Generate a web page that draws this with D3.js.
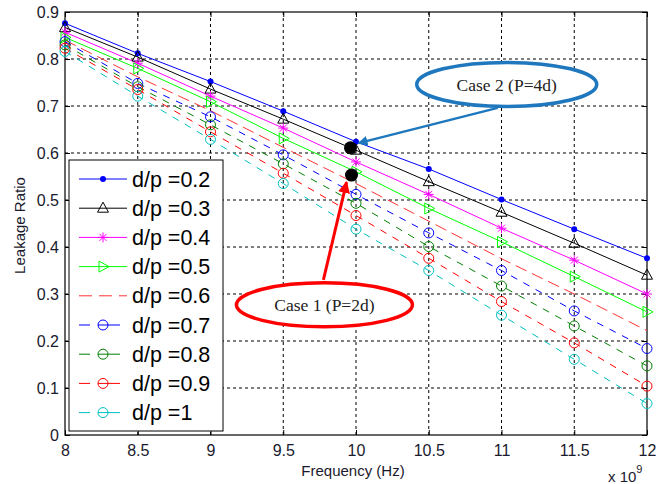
<!DOCTYPE html>
<html>
<head>
<meta charset="utf-8">
<script src="https://cdn.jsdelivr.net/npm/d3@7"></script>
<style>
  body { margin: 0; background: #fff; }
  svg { display: block; font-family: Arial, "Liberation Sans", sans-serif; }
  .tick text { fill: #1a1a2e; }
</style>
</head>
<body>
<div class="chart"></div>
<script>
// frequencies in GHz (axis shows x 10^9)
var freqs = [8, 8.5, 9, 9.5, 10, 10.5, 11, 11.5, 12];
var ratios = ['0.2', '0.3', '0.4', '0.5', '0.6', '0.7', '0.8', '0.9', '1'];
var s02 = [0.876, 0.812, 0.752, 0.689, 0.624, 0.566, 0.501, 0.438, 0.376];
var s03 = [0.867, 0.804, 0.736, 0.672, 0.606, 0.539, 0.474, 0.408, 0.340];
var s04 = [0.857, 0.791, 0.721, 0.653, 0.581, 0.512, 0.440, 0.372, 0.300];
var s05 = [0.846, 0.780, 0.709, 0.631, 0.560, 0.482, 0.411, 0.337, 0.262];
var s06 = [0.840, 0.762, 0.690, 0.612, 0.535, 0.455, 0.375, 0.300, 0.222];
var s07 = [0.837, 0.748, 0.677, 0.596, 0.512, 0.430, 0.350, 0.264, 0.184];
var s08 = [0.830, 0.741, 0.660, 0.577, 0.493, 0.401, 0.317, 0.232, 0.147];
var s09 = [0.823, 0.735, 0.645, 0.557, 0.467, 0.376, 0.284, 0.196, 0.104];
var s10 = [0.816, 0.721, 0.629, 0.535, 0.438, 0.350, 0.255, 0.161, 0.067];
var xTicks = [8, 8.5, 9, 9.5, 10, 10.5, 11, 11.5, 12];
var yTicks = [0, 0.1, 0.2, 0.3, 0.4, 0.5, 0.6, 0.7, 0.8, 0.9];

// the two highlighted cases (black dots) and their callouts, in data units
var caseLabels = ['Case 2 (P=4d)', 'Case 1 (P=2d)'];
var caseDots = [[9.962, 0.611], [9.969, 0.553]];
var caseBubbles = [[11.036, 0.746], [9.783, 0.277]];
var caseArrowFrom = [[10.974, 0.696], [9.776, 0.330]];
var caseArrowTo = [[10.017, 0.621], [9.935, 0.538]];

var series = [s02, s03, s04, s05, s06, s07, s08, s09, s10];
var colors = ['#0000ff', '#000000', '#ff00ff', '#00ff00', '#ff3333', '#0000ff', '#008000', '#ff0000', '#00bfbf'];
var markers = ['dot', 'triangle', 'star', 'right', 'none', 'circle', 'circle', 'circle', 'circle'];
var dashes = [null, null, null, null, '12,6', '7,7', '7,7', '7,7', '7,7'];

var margin = { top: 12, right: 19, bottom: 49, left: 65 },
  width = 666 - margin.left - margin.right,
  height = 484 - margin.top - margin.bottom;

var svg = d3.select('.chart')
  .append('svg')
    .attr('width', 666)
    .attr('height', 484);

var g = svg.append('g')
  .attr('transform', `translate(${margin.left}, ${margin.top})`);

var x = d3.scaleLinear().domain([8, 12]).range([0, width]);
var y = d3.scaleLinear().domain([0, 0.9]).range([height, 0]);

// dotted grid
g.append('g')
  .selectAll('line')
  .data(xTicks.slice(1, -1))
  .enter().append('line')
    .attr('x1', d => x(d)).attr('x2', d => x(d))
    .attr('y1', 0).attr('y2', height)
    .attr('stroke', '#000').attr('stroke-width', 1)
    .attr('stroke-dasharray', '3,3');
g.append('g')
  .selectAll('line')
  .data(yTicks.slice(1, -1))
  .enter().append('line')
    .attr('y1', d => y(d)).attr('y2', d => y(d))
    .attr('x1', 0).attr('x2', width)
    .attr('stroke', '#000').attr('stroke-width', 1)
    .attr('stroke-dasharray', '3,3');

// axes (ticks point inward, MATLAB style)
var fmt = d => d3.format('~g')(d);
g.append('g')
  .attr('transform', `translate(0, ${height})`)
  .call(d3.axisBottom(x).tickValues(xTicks).tickFormat(fmt).tickSize(-5).tickPadding(10))
  .call(a => a.select('.domain').remove())
  .selectAll('text').style('font-size', '16px');
g.append('g')
  .call(d3.axisLeft(y).tickValues(yTicks).tickFormat(fmt).tickSize(-5).tickPadding(6))
  .call(a => a.select('.domain').remove())
  .selectAll('text').style('font-size', '16px');
g.append('g')
  .call(d3.axisTop(x).tickValues(xTicks).tickFormat('').tickSize(-5))
  .call(a => a.select('.domain').remove());
g.append('g')
  .attr('transform', `translate(${width}, 0)`)
  .call(d3.axisRight(y).tickValues(yTicks).tickFormat('').tickSize(-5))
  .call(a => a.select('.domain').remove());

g.append('rect')
  .attr('width', width).attr('height', height)
  .attr('fill', 'none').attr('stroke', '#000').attr('stroke-width', 1.2);

// lines
var line = d3.line().x((d, i) => x(freqs[i])).y(d => y(d));
series.forEach(function(s, k) {
  g.append('path')
    .datum(s)
    .attr('d', line)
    .attr('fill', 'none')
    .attr('stroke', colors[k])
    .attr('stroke-width', 1)
    .attr('stroke-dasharray', dashes[k]);
});

function drawMarker(sel, type, color) {
  if (type === 'dot') {
    sel.append('circle').attr('r', 3).attr('fill', color);
  } else if (type === 'circle') {
    sel.append('circle').attr('r', 5).attr('fill', 'none').attr('stroke', color);
  } else if (type === 'triangle') {
    sel.append('path').attr('d', 'M0,-6L5.5,4L-5.5,4Z').attr('fill', 'none').attr('stroke', color);
  } else if (type === 'right') {
    sel.append('path').attr('d', 'M6,0L-4,-5.5L-4,5.5Z').attr('fill', 'none').attr('stroke', color);
  } else if (type === 'star') {
    sel.append('path').attr('d', 'M-5,0H5M0,-5V5M-3.5,-3.5L3.5,3.5M-3.5,3.5L3.5,-3.5')
      .attr('stroke', color);
  }
}

series.forEach(function(s, k) {
  if (markers[k] === 'none') return;
  g.append('g')
    .selectAll('g')
    .data(s)
    .enter().append('g')
      .attr('transform', (d, i) => `translate(${x(freqs[i])}, ${y(d)})`)
      .each(function() { drawMarker(d3.select(this), markers[k], colors[k]); });
});

// legend
var legend = g.append('g').attr('transform', 'translate(4, 148)');
legend.append('rect')
  .attr('width', 154).attr('height', 271)
  .attr('fill', '#fff').attr('stroke', '#000');
var item = legend.selectAll('.legend')
  .data(ratios)
  .enter().append('g')
    .attr('class', 'legend')
    .attr('transform', (d, i) => `translate(0, ${19 + i * 29.2})`);
item.append('line')
  .attr('x1', 10).attr('x2', (d, i) => i > 4 ? 51 : 58)
  .attr('stroke', (d, i) => colors[i])
  .attr('stroke-dasharray', (d, i) => i === 4 ? '13,7' : (dashes[i] ? '11,8,100' : null));
item.append('g')
  .attr('transform', 'translate(34, 0)')
  .each(function(d, i) { drawMarker(d3.select(this), markers[i], colors[i]); });
item.append('text')
  .attr('x', 63).attr('dy', '.35em')
  .style('font-size', '21.5px')
  .text(d => 'd/p =' + d);

// callouts
var callColors = ['#1f78be', '#ff0000'];
var defs = svg.append('defs');
callColors.forEach(function(c, k) {
  defs.append('marker')
    .attr('id', 'arrow' + k)
    .attr('viewBox', '0 -5 10 10')
    .attr('refX', 9).attr('refY', 0)
    .attr('markerWidth', 4).attr('markerHeight', 4)
    .attr('orient', 'auto')
    .append('path').attr('d', 'M0,-5L10,0L0,5Z').attr('fill', c);
});

caseLabels.forEach(function(label, k) {
  var b = caseBubbles[k];
  g.append('line')
    .attr('x1', x(caseArrowFrom[k][0])).attr('y1', y(caseArrowFrom[k][1]))
    .attr('x2', x(caseArrowTo[k][0])).attr('y2', y(caseArrowTo[k][1]))
    .attr('stroke', callColors[k]).attr('stroke-width', k ? 3 : 2.5)
    .attr('marker-end', `url(#arrow${k})`);
  g.append('ellipse')
    .attr('cx', x(b[0])).attr('cy', y(b[1]))
    .attr('rx', k ? 88 : 90).attr('ry', 22)
    .attr('fill', '#fff')
    .attr('stroke', callColors[k]).attr('stroke-width', 3.5);
  g.append('text')
    .attr('x', x(b[0])).attr('y', y(b[1]))
    .attr('dy', '.35em')
    .attr('text-anchor', 'middle')
    .style('font-family', '"Liberation Serif", "Times New Roman", serif')
    .style('font-size', '17.5px')
    .attr('fill', '#222')
    .text(label);
});

g.selectAll('.case-dot')
  .data(caseDots)
  .enter().append('circle')
    .attr('class', 'case-dot')
    .attr('cx', d => x(d[0])).attr('cy', d => y(d[1]))
    .attr('r', 6.5)
    .attr('fill', '#000');

// axis labels
svg.append('text')
  .attr('x', margin.left + width / 2 - 3).attr('y', 476)
  .attr('text-anchor', 'middle')
  .style('font-size', '15px').attr('fill', '#1a1a2e')
  .text('Frequency (Hz)');
svg.append('text')
  .attr('transform', `translate(25, ${margin.top + height / 2 + 2}) rotate(-90)`)
  .attr('text-anchor', 'middle')
  .style('font-size', '15px').attr('fill', '#1a1a2e')
  .text('Leakage Ratio');
var exp = svg.append('text')
  .attr('x', 608).attr('y', 482)
  .style('font-size', '15px').attr('fill', '#1a1a2e');
exp.append('tspan').text('x 10');
exp.append('tspan').attr('dy', -9).style('font-size', '11px').text('9');
</script>
</body>
</html>
